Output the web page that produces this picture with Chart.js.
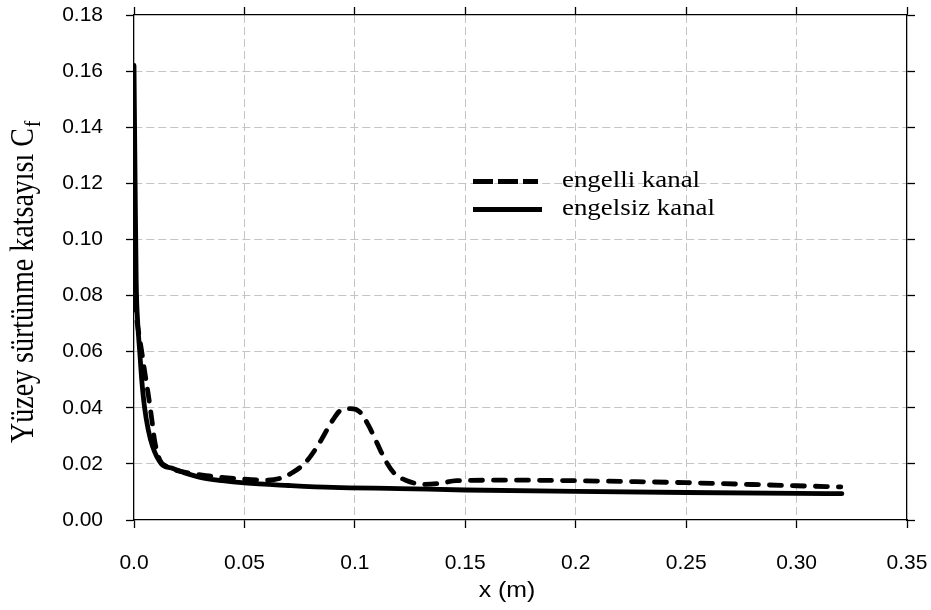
<!DOCTYPE html>
<html><head><meta charset="utf-8">
<script src="https://cdn.jsdelivr.net/npm/chart.js@4.4.1/dist/chart.umd.min.js"></script>
<style>html,body{margin:0;padding:0;background:#fff;}canvas{display:block;}</style>
</head><body>
<canvas id="c" width="931" height="610"></canvas>
<script>
// ---- data ----
const xTickLabels = ['0.0', '0.05', '0.1', '0.15', '0.2', '0.25', '0.30', '0.35'];
const yTickLabels = ['0.00', '0.02', '0.04', '0.06', '0.08', '0.10', '0.12', '0.14', '0.16', '0.18'];

const seriesNames = ['engelli kanal', 'engelsiz kanal'];

// engelli kanal (dashed)
const xEngelli = [0, 0.0015, 0.0033, 0.005, 0.0066, 0.0082, 0.0094, 0.0116, 0.015, 0.022, 0.034, 0.049, 0.06, 0.066, 0.072, 0.078, 0.084, 0.09, 0.094, 0.098, 0.102, 0.106, 0.11, 0.114, 0.118, 0.123, 0.131, 0.138, 0.146, 0.17, 0.2, 0.25, 0.3, 0.32];
const yEngelli = [0.079, 0.07, 0.061, 0.052, 0.044, 0.035, 0.028, 0.0215, 0.019, 0.0172, 0.0157, 0.0146, 0.0142, 0.0148, 0.017, 0.0208, 0.0275, 0.0356, 0.0393, 0.0397, 0.0387, 0.034, 0.0275, 0.021, 0.0165, 0.0142, 0.0127, 0.013, 0.014, 0.0142, 0.014, 0.0133, 0.0122, 0.0118];

// engelsiz kanal (solid)
const xEngelsiz = [0, 0.0005, 0.001, 0.0017, 0.0026, 0.0035, 0.0048, 0.0065, 0.0085, 0.0124, 0.017, 0.023, 0.03, 0.04, 0.05, 0.07, 0.09, 0.12, 0.15, 0.2, 0.25, 0.3, 0.3205];
const yEngelsiz = [0.162, 0.12, 0.085, 0.07, 0.06, 0.05, 0.04, 0.032, 0.026, 0.02, 0.0185, 0.0168, 0.0152, 0.014, 0.0132, 0.0123, 0.0116, 0.0112, 0.0107, 0.0102, 0.0098, 0.0095, 0.0094];

const toPts = (xs, ys) => xs.map((x, i) => ({x: x, y: ys[i]}));

const gridColor = (c) => (c.index === 0 || c.index === c.scale.ticks.length - 1) ? 'rgba(0,0,0,0)' : '#c4c4c4';

const noPad = (s) => { s.paddingLeft = 0; s.paddingRight = 0; s.paddingTop = 0; s.paddingBottom = 0; };

const textPlugin = {
  id: 'texts',
  afterDraw(chart) {
    const ctx = chart.ctx;
    ctx.save();
    ctx.fillStyle = '#000';
    // Y axis title (rotated) with subscript
    ctx.save();
    ctx.translate(33, 443);
    ctx.scale(1.2, 1);
    ctx.rotate(-Math.PI / 2);
    ctx.font = '28px "Liberation Serif"';
    ctx.textAlign = 'left';
    ctx.textBaseline = 'alphabetic';
    const main = 'Yüzey sürtünme katsayısı C';
    ctx.fillText(main, 0, 0);
    const w = ctx.measureText(main).width;
    ctx.font = '19px "Liberation Serif"';
    ctx.fillText('f', w + 1, 6);
    ctx.restore();

    // X axis title
    ctx.save();
    ctx.translate(507, 597);
    ctx.scale(1.13, 1);
    ctx.font = '22px "Liberation Sans"';
    ctx.textAlign = 'center';
    ctx.textBaseline = 'alphabetic';
    ctx.fillText('x (m)', 0, 0);
    ctx.restore();

    // Legend
    ctx.save();
    ctx.strokeStyle = '#000';
    ctx.lineWidth = 5;
    ctx.lineCap = 'butt';
    ctx.setLineDash([20, 5]);
    ctx.beginPath(); ctx.moveTo(473, 181.5); ctx.lineTo(538, 181.5); ctx.stroke();
    ctx.setLineDash([]);
    ctx.beginPath(); ctx.moveTo(473, 209.5); ctx.lineTo(542, 209.5); ctx.stroke();
    ctx.restore();

    ctx.font = '24px "Liberation Serif"';
    ctx.textAlign = 'left';
    ctx.textBaseline = 'alphabetic';
    ctx.save(); ctx.translate(562, 187); ctx.scale(1.12, 1); ctx.fillText(seriesNames[0], 0, 0); ctx.restore();
    ctx.save(); ctx.translate(562, 215); ctx.scale(1.12, 1); ctx.fillText(seriesNames[1], 0, 0); ctx.restore();
    ctx.restore();
  }
};

const tickFont = {family: '"Liberation Sans", Arial, sans-serif', size: 21};

new Chart(document.getElementById('c'), {
  type: 'line',
  data: {
    datasets: [
      {
        label: seriesNames[0],
        data: toPts(xEngelli, yEngelli),
        borderColor: '#000',
        borderWidth: 4.8,
        borderDash: [12, 11],
        borderCapStyle: 'round',
        borderJoinStyle: 'round',
        pointRadius: 0,
        fill: false,
        cubicInterpolationMode: 'monotone'
      },
      {
        label: seriesNames[1],
        data: toPts(xEngelsiz, yEngelsiz),
        borderColor: '#000',
        borderWidth: 4.8,
        borderCapStyle: 'round',
        borderJoinStyle: 'round',
        pointRadius: 0,
        fill: false,
        cubicInterpolationMode: 'monotone'
      }
    ]
  },
  options: {
    responsive: false,
    animation: false,
    devicePixelRatio: 1,
    layout: {padding: 0, autoPadding: false},
    plugins: {legend: {display: false}, tooltip: {enabled: false}},
    scales: {
      x: {
        type: 'linear', position: 'bottom', min: 0, max: 0.35, display: true,
        afterFit: (s) => { s.height = 90; noPad(s); },
        ticks: {stepSize: 0.05, autoSkip: false, maxRotation: 0, padding: 23, color: '#000', font: tickFont,
          callback: (v, i) => xTickLabels[i]},
        grid: {color: gridColor, lineWidth: 1, drawTicks: true, tickLength: 8, tickColor: '#000', tickWidth: 1.3, tickBorderDash: []},
        border: {display: true, color: '#000', width: 1.3, dash: [8, 4]}
      },
      y: {
        type: 'linear', position: 'left', min: 0, max: 0.18, display: true,
        afterFit: (s) => { s.width = 134; noPad(s); },
        ticks: {stepSize: 0.02, autoSkip: false, padding: 23, color: '#000', font: tickFont,
          callback: (v, i) => yTickLabels[i]},
        grid: {color: gridColor, lineWidth: 1, drawTicks: true, tickLength: 8, tickColor: '#000', tickWidth: 1.3, tickBorderDash: []},
        border: {display: true, color: '#000', width: 1.3, dash: [8, 4]}
      },
      x2: {
        type: 'linear', position: 'top', min: 0, max: 0.35, display: true,
        afterFit: (s) => { s.height = 15; noPad(s); },
        ticks: {stepSize: 0.05, display: false},
        grid: {drawOnChartArea: false, drawTicks: true, tickLength: 8, tickColor: '#000', tickWidth: 1.3},
        border: {display: true, color: '#000', width: 1.3}
      },
      y2: {
        type: 'linear', position: 'right', min: 0, max: 0.18, display: true,
        afterFit: (s) => { s.width = 24; noPad(s); },
        ticks: {stepSize: 0.02, display: false},
        grid: {drawOnChartArea: false, drawTicks: true, tickLength: 8, tickColor: '#000', tickWidth: 1.3},
        border: {display: true, color: '#000', width: 1.3}
      }
    }
  },
  plugins: [textPlugin]
});
</script>
</body></html>
